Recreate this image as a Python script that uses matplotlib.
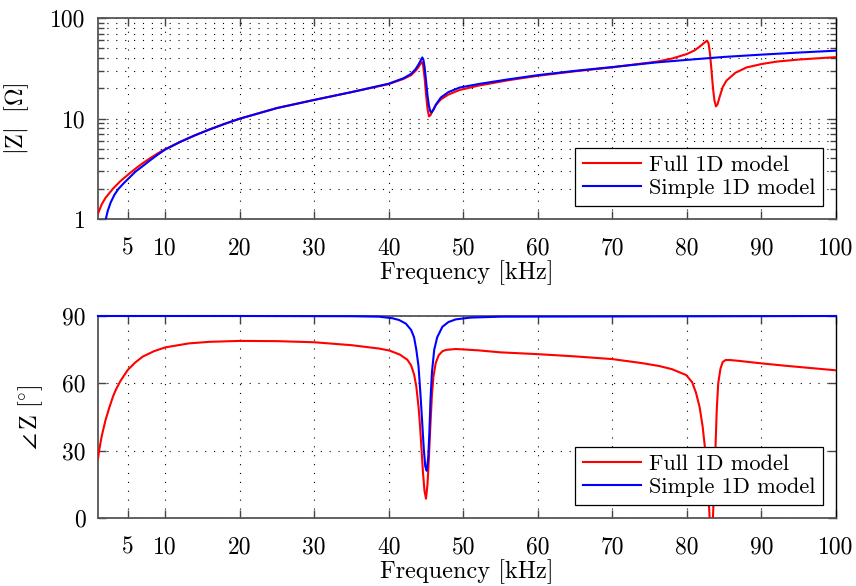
import matplotlib
matplotlib.use("Agg")
import matplotlib.pyplot as plt

plt.rcParams['font.family'] = ['cmr10', 'DejaVu Serif']
plt.rcParams['mathtext.fontset'] = 'cm'
plt.rcParams['axes.formatter.use_mathtext'] = True

# ---------------- data ----------------
freq_mag_full = [1.0, 1.5, 2.0, 3.0, 4.0, 5.0, 6.0, 7.0, 8.0, 9.0, 10.0, 12.0, 14.0, 16.0, 18.0, 20.0,
                 25.0, 30.0, 35.0,
                 40.0, 42.0, 43.0, 43.6, 44.0, 44.3, 44.45, 44.6, 44.8, 45.0, 45.2, 45.4, 45.6, 45.9,
                 46.3, 47.0, 48.0, 49.5, 52.0, 56.0, 60.0, 65.0, 70.0, 73.0, 76.0, 78.0, 80.0, 81.0,
                 81.7, 82.3, 82.7, 82.9, 83.1, 83.3, 83.5, 83.7, 83.9, 84.1, 84.4, 84.8, 85.3, 86.5,
                 88.0, 90.0, 92.0, 95.0, 100.0]
mag_full = [1.13, 1.4, 1.62, 2.0, 2.38, 2.75, 3.16, 3.59, 4.03, 4.49, 4.95, 5.85, 6.8, 7.8, 8.85, 9.95,
            12.7, 15.3, 18.3,
            22.0, 24.8, 27.0, 29.8, 32.5, 35.5, 36.5, 34.0, 26.0, 17.5, 12.5, 10.5, 10.8, 12.0,
            13.6, 15.5, 17.3, 19.2, 21.2, 24.0, 26.6, 29.5, 32.3, 34.5, 36.8, 39.5, 43.8, 47.5,
            51.8, 56.5, 59.5, 56.0, 44.0, 30.0, 20.0, 15.0, 13.2, 13.8, 16.5, 20.5, 23.8, 28.5,
            32.2, 34.8, 36.8, 38.6, 40.8]

freq_mag_simple = [2.05, 2.3, 2.7, 3.2, 3.73, 4.5, 5.0, 6.0, 7.0, 8.0, 9.0, 10.0, 12.0, 14.0, 16.0,
                   18.0, 20.0, 25.0,
                   30.0, 35.0, 40.0, 42.0, 43.0, 43.6, 44.0, 44.3, 44.5, 44.65, 44.8, 45.0, 45.2,
                   45.4, 45.6, 45.75, 46.0, 46.4, 47.0, 48.0, 49.5, 52.0, 56.0, 60.0, 65.0, 70.0,
                   76.0, 80.0, 85.0, 90.0, 95.0, 100.0]
mag_simple = [1.0, 1.2, 1.46, 1.74, 1.99, 2.29, 2.49, 2.95, 3.36, 3.84, 4.36, 4.9, 5.83, 6.8, 7.8,
              8.85, 9.95, 12.7,
              15.3, 18.3, 22.2, 25.2, 27.8, 31.0, 34.5, 38.0, 40.5, 38.5, 33.0, 24.0, 17.0,
              13.3, 11.7, 11.5, 12.2, 14.0, 16.2, 18.3, 20.3, 22.0, 24.5, 27.0, 29.8, 32.5,
              36.2, 38.3, 41.0, 43.2, 45.3, 47.3]

freq_ph_full = [1.0, 1.2, 1.5, 2.0, 2.5, 3.0, 3.4, 4.0, 5.0, 6.0, 7.0, 8.5, 10.0, 13.2, 16.0, 20.0,
                25.0, 30.0, 35.0, 38.7, 40.1, 41.5, 42.5, 43.0, 43.4, 43.7, 44.0, 44.2, 44.4, 44.6,
                44.8, 45.0, 45.2, 45.4, 45.6, 45.8, 46.0, 46.3, 46.7, 47.2, 47.7, 49.0, 52.0, 55.0,
                60.0, 65.0, 70.0, 74.0, 76.3, 78.0, 79.9, 80.7, 81.2, 81.7, 82.1, 82.4, 82.7, 82.9,
                83.1, 83.25, 83.4, 83.55, 83.7, 83.85, 84.0, 84.2, 84.5, 84.8, 85.2, 85.7, 87.0,
                89.7, 93.0, 96.0, 100.0]
ph_full = [26.5, 31.0, 36.5, 43.5, 49.0, 54.0, 57.2, 61.0, 66.0, 69.3, 71.9, 74.3, 76.0, 77.8, 78.5, 78.9,
           78.8, 78.3, 77.0, 75.5, 74.6, 72.8, 70.5, 68.0, 64.0, 58.6, 49.5, 41.0, 30.5, 20.0,
           12.0, 8.6, 15.0, 27.4, 42.0, 55.0, 63.0, 69.0, 72.5, 74.3, 74.9, 75.3, 74.7, 73.8,
           73.0, 72.0, 70.8, 69.0, 67.7, 66.3, 63.7, 60.5, 56.0, 49.5, 41.0, 32.0, 20.0, 9.0,
           -3.0, -15.0, -8.0, 5.0, 18.0, 33.0, 48.0, 60.0, 66.5, 69.5, 70.4, 70.4, 70.0,
           69.0, 67.9, 67.0, 65.8]

freq_ph_simple = [1.0, 20.0, 35.0, 38.7, 40.5, 41.4, 42.3, 43.0, 43.4, 43.7, 44.0, 44.3, 44.5, 44.7,
                  44.9, 45.1, 45.3, 45.45, 45.6, 45.8, 46.1, 46.5, 47.2, 48.0, 49.0, 51.0, 55.0, 100.0]
ph_simple = [90.0, 90.0, 89.9, 89.7, 89.0, 88.2, 86.6, 83.8, 80.5, 75.0, 67.5, 53.0, 42.0, 31.0,
             23.0, 21.0, 27.0, 38.0, 52.6, 65.0, 74.9, 80.5, 85.2, 87.3, 88.5, 89.3, 89.7, 90.0]

xticks = [5, 10, 20, 30, 40, 50, 60, 70, 80, 90, 100]
xtick_labels = ['5', '10', '20', '30', '40', '50', '60', '70', '80', '90', '100']
mag_ticks = [1, 10, 100]
mag_tick_labels = ['1', '10', '100']
ph_ticks = [0, 30, 60, 90]
ph_tick_labels = ['0', '30', '60', '90']
legend_labels = ['Full 1D model', 'Simple 1D model']

# ---------------- figure ----------------
W, H = 856, 586
fig = plt.figure(figsize=(W / 100, H / 100), dpi=100)
ax1 = fig.add_axes([98 / W, 1 - 219 / H, 738 / W, 201 / H])
ax2 = fig.add_axes([98 / W, 1 - 518 / H, 738 / W, 202 / H])

grid_kw = dict(color='black', linestyle=(0, (1, 7)), linewidth=0.8)
FS_TICK = 17
FS_LABEL = 17.5
FS_LEG = 16

for ax in (ax1, ax2):
    ax.set_xlim(1, 100)
    ax.set_xticks(xticks)
    ax.set_xticklabels(xtick_labels)
    ax.tick_params(axis='both', which='both', direction='in', top=True, right=True,
                   labelsize=FS_TICK, color='#444444')
    ax.tick_params(axis='both', which='major', length=6, width=1.0)
    ax.tick_params(axis='x', which='major', pad=13)
    ax.tick_params(axis='y', which='major', pad=9)
    for s in ('left', 'bottom', 'top'):
        ax.spines[s].set_color('#555555')
        ax.spines[s].set_linewidth(1.3)
    ax.spines['right'].set_color('black')
    ax.spines['right'].set_linewidth(1.0)
    ax.set_xlabel('Frequency [kHz]', fontsize=FS_LABEL, labelpad=1)

# top: magnitude
l1, = ax1.plot(freq_mag_full, mag_full, color='#ff0000', lw=1.5, zorder=3)
l2, = ax1.plot(freq_mag_simple, mag_simple, color='#0000ff', lw=1.5, zorder=3)
ax1.set_yscale('log')
ax1.set_ylim(1, 100)
ax1.set_yticks(mag_ticks)
ax1.set_yticklabels(mag_tick_labels)
ax1.yaxis.set_minor_formatter(matplotlib.ticker.NullFormatter())
ax1.tick_params(axis='y', which='minor', length=4, width=1.0)
ax1.xaxis.set_minor_locator(matplotlib.ticker.NullLocator())
ax1.grid(True, which='major', axis='x', **grid_kw)
ax1.grid(True, which='both', axis='y', **grid_kw)
ax1.set_ylabel(r'$\mathrm{|Z|\ \ [\Omega]}$', fontsize=FS_LABEL, labelpad=14)
leg_kw = dict(loc='lower right', fontsize=FS_LEG, frameon=True, fancybox=False,
              edgecolor='black', framealpha=1, handlelength=2.6, borderaxespad=0.6,
              handletextpad=0.35, labelspacing=0.15, borderpad=0.35)
ax1.legend([l1, l2], legend_labels, **leg_kw)
ax1.get_legend().get_frame().set_linewidth(0.9)

# bottom: phase
m1, = ax2.plot(freq_ph_full, ph_full, color='#ff0000', lw=1.5, zorder=3)
m2, = ax2.plot(freq_ph_simple, ph_simple, color='#0000ff', lw=1.5, zorder=4, clip_on=False)
ax2.set_ylim(0, 90)
ax2.set_yticks(ph_ticks)
ax2.set_yticklabels(ph_tick_labels)
ax2.grid(True, which='major', **grid_kw)
ax2.set_ylabel(r'$\angle\,\mathrm{Z}\ [^{\circ}]$', fontsize=FS_LABEL, labelpad=12)
ax2.legend([m1, m2], legend_labels, **leg_kw)
ax2.get_legend().get_frame().set_linewidth(0.9)

fig.savefig('out.png', dpi=100)
